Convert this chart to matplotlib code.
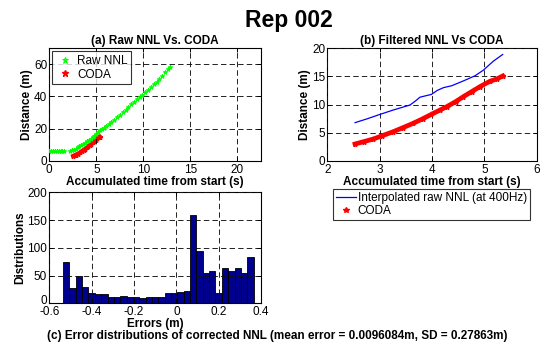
import matplotlib
matplotlib.use("Agg")
import matplotlib.pyplot as plt
from matplotlib.lines import Line2D
import matplotlib.transforms as mtransforms
import numpy as np

plt.rcParams['font.family'] = ['Liberation Sans', 'DejaVu Sans']
plt.rcParams['font.size'] = 8.5

# ---------------- data ----------------
raw_t = [0.0, 0.2, 0.4, 0.6, 0.8, 1.0, 1.2, 1.4, 1.6,
         2.2, 2.4, 2.6, 2.8, 3.0, 3.2, 3.4, 3.6, 3.8, 4.0, 4.2, 4.4, 4.6, 4.8,
         5.0, 5.2, 5.4, 5.6, 5.8, 6.0, 6.3, 6.6, 6.9, 7.2, 7.5, 7.8, 8.1, 8.4,
         8.7, 9.0, 9.3, 9.6, 9.9, 10.2, 10.5, 10.8, 11.1, 11.4, 11.7, 12.0,
         12.3, 12.6, 12.8]
raw_d = [6.2, 6.0, 6.1, 6.3, 6.0, 6.1, 5.9, 6.2, 6.0,
         5.8, 6.4, 6.9, 7.5, 8.3, 8.9, 9.6, 10.4, 11.1, 12.0, 12.9, 13.8, 14.6, 15.6,
         16.5, 17.6, 19.0, 19.7, 20.6, 21.5, 22.8, 24.2, 25.6, 27.2, 28.6, 30.2, 31.8, 33.5,
         35.2, 36.8, 38.4, 39.8, 41.2, 42.6, 44.3, 45.9, 47.5, 49.2, 50.8, 53.0,
         55.0, 56.8, 58.2]

coda_t = [2.53, 2.70, 2.88, 3.05, 3.26, 3.45, 3.64, 3.82, 3.99, 4.15, 4.28,
          4.45, 4.60, 4.76, 4.92, 5.10, 5.25, 5.35]
coda_d = [2.97, 3.40, 3.86, 4.45, 5.16, 5.90, 6.65, 7.45, 8.25, 9.0, 9.6,
          10.5, 11.4, 12.3, 13.2, 14.1, 14.6, 15.07]

interp_t = [2.53, 2.75, 3.01, 3.26, 3.58, 3.68, 3.77, 3.99, 4.10, 4.22, 4.38,
            4.60, 4.82, 4.98, 5.17, 5.35]
interp_d = [6.77, 7.42, 8.25, 9.02, 9.91, 10.6, 11.3, 11.8, 12.5, 13.0, 13.35,
            14.2, 15.1, 16.1, 17.7, 18.9]

hist_edges = [-0.535 + 0.03 * i for i in range(31)]
hist_counts = [75, 27, 50, 29, 19, 17, 16, 12, 12, 13, 12, 11, 10, 11, 12,
               12, 19, 18, 21, 22, 160, 95, 55, 59, 18, 63, 58, 63, 54, 83]

a_xticks = [0, 5, 10, 15, 20]
a_yticks = [0, 20, 40, 60]
b_xticks = [2, 3, 4, 5, 6]
b_yticks = [0, 5, 10, 15, 20]
c_xticks = [-0.6, -0.4, -0.2, 0, 0.2, 0.4]
c_xticklabels = ['-0.6', '-0.4', '-0.2', '0', '0.2', '0.4']
c_yticks = [0, 50, 100, 150, 200]

# ---------------- figure ----------------
W, H = 545, 342
fig = plt.figure(figsize=(W / 100, H / 100), dpi=100)
fig.patch.set_facecolor('white')

FS = 8.5

def px_axes(l, t, r, b):
    return fig.add_axes([l / W, 1 - b / H, (r - l) / W, (b - t) / H])

def style(ax):
    ax.tick_params(direction='in', length=3, width=0.7, top=True, right=True,
                   labelsize=FS, pad=1.5)
    ax.tick_params(axis='x', pad=2.3)
    for s in ax.spines.values():
        s.set_linewidth(0.8)
    ax.grid(True, color='#111111', linestyle=(0, (6, 3.5)), linewidth=0.65)
    ax.set_axisbelow(False)

green = '#00ff00'
red = '#ff0000'

# (a)
axa = px_axes(49.3, 48.3, 261, 160.7)
style(axa)
axa.plot(raw_t, raw_d, linestyle='none', marker='*', markersize=3.5,
         color=green, markeredgewidth=0.6, label='Raw NNL', zorder=3)
axa.plot(coda_t, coda_d, linestyle='-', linewidth=3, color=red, zorder=2)
axa.plot(coda_t, coda_d, linestyle='none', marker='*', markersize=3.5,
         color=red, label='CODA', zorder=2)
axa.set_xlim(0, 22.5)
axa.set_ylim(0, 70)
axa.set_xticks(a_xticks)
axa.set_yticks(a_yticks)
axa.set_title('(a) Raw NNL Vs. CODA', fontsize=FS, fontweight='bold', pad=3)
axa.set_xlabel('Accumulated time from start (s)', fontsize=FS, fontweight='bold', labelpad=0)
axa.set_ylabel('Distance (m)', fontsize=FS, fontweight='bold', labelpad=1)
leg = axa.legend(loc='upper left', fontsize=FS, frameon=True, fancybox=False,
                 edgecolor='black', handlelength=1.6, handletextpad=0.2,
                 borderpad=0.3, labelspacing=0.15, borderaxespad=0.25, markerscale=1.3)
leg.get_frame().set_linewidth(0.8)

# (b)
axb = px_axes(327.3, 48.3, 536.7, 160.7)
style(axb)
axb.plot(interp_t, interp_d, color='#0000ff', linewidth=0.9, zorder=3)
axb.plot(coda_t, coda_d, linestyle='-', linewidth=3.4, color=red, zorder=3)
axb.plot(coda_t, coda_d, linestyle='none', marker='*', markersize=3.5, color=red, zorder=3)
axb.set_xlim(2, 6)
axb.set_ylim(0, 20)
axb.set_xticks(b_xticks)
axb.set_yticks(b_yticks)
axb.set_title('(b) Filtered NNL Vs CODA', fontsize=FS, fontweight='bold', pad=3)
axb.set_xlabel('Accumulated time from start (s)', fontsize=FS, fontweight='bold', labelpad=0)
axb.set_ylabel('Distance (m)', fontsize=FS, fontweight='bold', labelpad=1)
handles = [Line2D([], [], color='#0000ff', linewidth=0.9),
           Line2D([], [], color=red, linestyle='none', marker='*', markersize=4)]
legb = fig.legend(handles, ['Interpolated raw NNL (at 400Hz)', 'CODA'],
                  loc='upper left', bbox_to_anchor=(333 / W, 1 - 189 / H),
                  fontsize=FS, frameon=True, fancybox=False, edgecolor='black',
                  handlelength=1.7, handletextpad=0.15, borderpad=0.25,
                  labelspacing=0.1, borderaxespad=0)
legb.get_frame().set_linewidth(0.8)

# (c)
axc = px_axes(49.3, 192.3, 261, 303.3)
style(axc)
axc.bar(hist_edges[:-1], hist_counts, width=0.03, align='edge',
        color='#00008f', edgecolor='black', linewidth=0.6, zorder=1)
axc.set_xlim(-0.6, 0.4)
axc.set_ylim(0, 200)
axc.set_xticks(c_xticks)
axc.set_xticklabels(c_xticklabels)
axc.set_yticks(c_yticks)
axc.set_xlabel('Errors (m)', fontsize=FS, fontweight='bold', labelpad=0)
axc.set_ylabel('Distributions', fontsize=FS, fontweight='bold', labelpad=1)
# nudge the bottom "0" y-label up slightly so it clears the "-0.6" x-label
lbl0 = axc.get_yticklabels()[0]
lbl0.set_transform(lbl0.get_transform() +
                   mtransforms.ScaledTranslation(0, 2.5 / 72, fig.dpi_scale_trans))

fig.text(277 / W, 1 - 336.5 / H,
         '(c) Error distributions of corrected NNL (mean error = 0.0096084m, SD = 0.27863m)',
         ha='center', va='center', fontsize=FS, fontweight='bold')

fig.text(289 / W, 1 - 27.3 / H, 'Rep 002', ha='center', va='baseline',
         fontsize=16.5, fontweight='bold')

fig.savefig('out.png', dpi=100)
